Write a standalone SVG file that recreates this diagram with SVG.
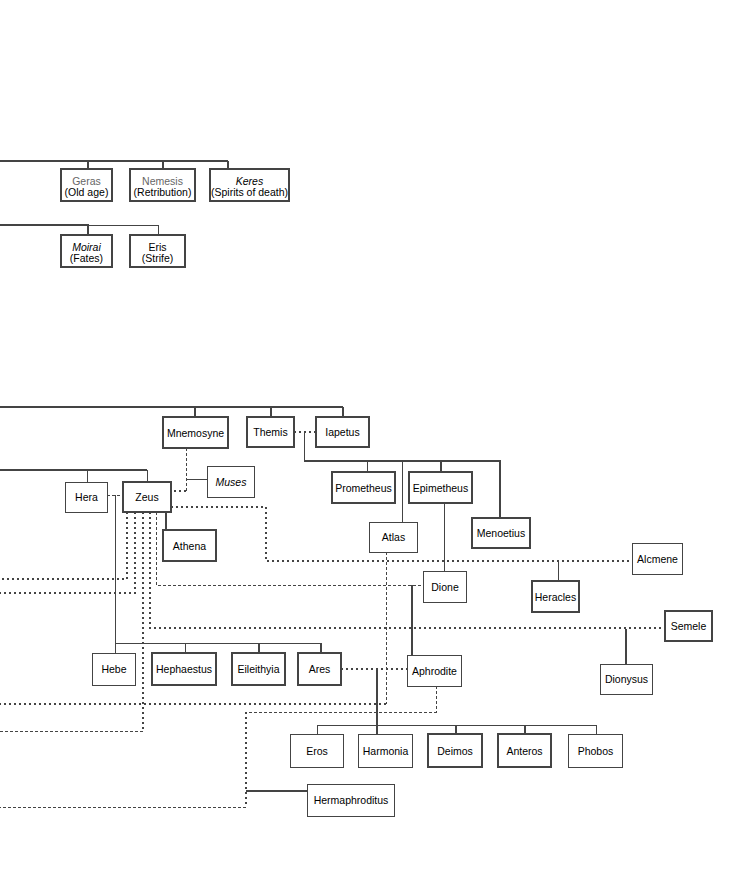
<svg xmlns="http://www.w3.org/2000/svg" width="755" height="873" viewBox="0 0 755 873">
<style>
.bx{fill:#fff;stroke:#444;shape-rendering:crispEdges}
.tk{stroke-width:2}
.tn{stroke-width:1}
text{font-family:"Liberation Sans",Arial,sans-serif;font-size:10.5px;fill:#000;text-anchor:middle}
.g{fill:#666}
.i{font-style:italic}
path{shape-rendering:crispEdges}
.s1{fill:none;stroke:#444;stroke-width:1}
.s2{fill:none;stroke:#444;stroke-width:2}
.da{fill:none;stroke:#444;stroke-width:1;stroke-dasharray:3,2}
.dt{fill:none;stroke:#444;stroke-width:2;stroke-dasharray:2,3}
</style>
<rect width="755" height="873" fill="#fff"/>
<g id="connectors">
<path class="s2" d="M0 161H228M88 161V169M163 161V169M228 161V169"/>
<path class="s2" d="M0 225H88V235"/>
<path class="s1" d="M88 225H158V235"/>
<path class="s2" d="M0 407H343M195 407V417M271 407V417M343 407V417"/>
<path class="s2" d="M0 470H147"/>
<path class="s1" d="M87 470V482M147 470V482"/>
<path class="da" d="M107 495H123"/>
<path class="s1" d="M115 495V643H321M115 643V653M185 643V653"/>
<path class="s2" d="M259 643V653M321 643V653"/>
<path class="da" d="M186 448V491"/>
<path class="dt" d="M186 491H171"/>
<path class="s1" d="M186 479H207"/>
<path class="dt" d="M294 432H316"/>
<path class="s1" d="M304 432V461"/>
<path class="s2" d="M304 461H500V518M441 461V472"/>
<path class="s1" d="M367 461V472M402 461V522M444 503V571"/>
<path class="s2" d="M166 512V530"/>
<path class="dt" d="M127 512V579H0M135 512V593H0M143 512V731"/>
<path class="da" d="M143 731H0"/>
<path class="dt" d="M150 512V628H665"/>
<path class="da" d="M156 512V585H423"/>
<path class="dt" d="M171 507H266V561H632"/>
<path class="s1" d="M558 561V581"/>
<path class="s2" d="M626 629V664"/>
<path class="s2" d="M412 585V655"/>
<path class="da" d="M386 552V704"/>
<path class="dt" d="M386 704H0"/>
<path class="dt" d="M341 669H407"/>
<path class="s2" d="M377 669V734"/>
<path class="s1" d="M317 725H596M317 725V734M596 725V734"/>
<path class="s2" d="M456 725V734M525 725V734"/>
<path class="da" d="M436 686V712H246"/>
<path class="dt" d="M246 712V807"/>
<path class="da" d="M246 807H0"/>
<path class="s2" d="M246 791H307"/>
</g>
<g id="geras"><rect class="bx tk" x="61" y="169" width="51" height="32"/><text x="86.5" y="185" class="g">Geras</text><text x="86.5" y="196">(Old age)</text></g>
<g id="nemesis"><rect class="bx tk" x="130" y="169" width="65" height="32"/><text x="162.5" y="185" class="g">Nemesis</text><text x="162.5" y="196">(Retribution)</text></g>
<g id="keres"><rect class="bx tk" x="210" y="169" width="79" height="32"/><text x="249.5" y="185" class="i">Keres</text><text x="249.5" y="196">(Spirits of death)</text></g>
<g id="moirai"><rect class="bx tk" x="61" y="235" width="51" height="32"/><text x="86.5" y="251" class="i">Moirai</text><text x="86.5" y="262">(Fates)</text></g>
<g id="eris"><rect class="bx tk" x="130" y="235" width="55" height="32"/><text x="157.5" y="251">Eris</text><text x="157.5" y="262">(Strife)</text></g>
<g id="mnemosyne"><rect class="bx tk" x="163" y="417" width="65" height="31"/><text x="195.5" y="436.5">Mnemosyne</text></g>
<g id="themis"><rect class="bx tk" x="247" y="417" width="47" height="30"/><text x="270.5" y="436">Themis</text></g>
<g id="iapetus"><rect class="bx tk" x="316" y="417" width="53" height="30"/><text x="342.5" y="436">Iapetus</text></g>
<g id="hera"><rect class="bx tn" x="65.5" y="482.5" width="42" height="30"/><text x="86.5" y="501">Hera</text></g>
<g id="zeus"><rect class="bx tk" x="123" y="482" width="48" height="30"/><text x="147" y="501">Zeus</text></g>
<g id="muses"><rect class="bx tn" x="207.5" y="466.5" width="47" height="31"/><text x="231" y="486" class="i">Muses</text></g>
<g id="athena"><rect class="bx tk" x="163" y="530" width="53" height="31"/><text x="189.5" y="549.5">Athena</text></g>
<g id="prometheus"><rect class="bx tk" x="332" y="472" width="63" height="31"/><text x="363.5" y="491.5">Prometheus</text></g>
<g id="epimetheus"><rect class="bx tk" x="409" y="472" width="63" height="31"/><text x="440.5" y="491.5">Epimetheus</text></g>
<g id="atlas"><rect class="bx tn" x="369.5" y="522.5" width="48" height="30"/><text x="393.5" y="541">Atlas</text></g>
<g id="menoetius"><rect class="bx tk" x="472" y="518" width="58" height="30"/><text x="501" y="537">Menoetius</text></g>
<g id="alcmene"><rect class="bx tn" x="632.5" y="543.5" width="50" height="31"/><text x="657.5" y="563">Alcmene</text></g>
<g id="dione"><rect class="bx tn" x="423.5" y="571.5" width="43" height="31"/><text x="445" y="591">Dione</text></g>
<g id="heracles"><rect class="bx tk" x="532" y="581" width="47" height="31"/><text x="555.5" y="600.5">Heracles</text></g>
<g id="semele"><rect class="bx tk" x="665" y="611" width="47" height="30"/><text x="688.5" y="630">Semele</text></g>
<g id="dionysus"><rect class="bx tn" x="600.5" y="664.5" width="52" height="30"/><text x="626.5" y="683">Dionysus</text></g>
<g id="hebe"><rect class="bx tn" x="92.5" y="653.5" width="43" height="32"/><text x="114" y="673">Hebe</text></g>
<g id="hephaestus"><rect class="bx tk" x="152" y="653" width="64" height="32"/><text x="184" y="673">Hephaestus</text></g>
<g id="eileithyia"><rect class="bx tk" x="232" y="653" width="53" height="32"/><text x="258.5" y="673">Eileithyia</text></g>
<g id="ares"><rect class="bx tk" x="298" y="653" width="43" height="32"/><text x="319.5" y="673">Ares</text></g>
<g id="aphrodite"><rect class="bx tn" x="407.5" y="655.5" width="54" height="31"/><text x="434.5" y="675">Aphrodite</text></g>
<g id="eros"><rect class="bx tn" x="290.5" y="734.5" width="53" height="33"/><text x="317" y="755">Eros</text></g>
<g id="harmonia"><rect class="bx tn" x="358.5" y="734.5" width="54" height="33"/><text x="385.5" y="755">Harmonia</text></g>
<g id="deimos"><rect class="bx tk" x="428" y="734" width="54" height="33"/><text x="455" y="755">Deimos</text></g>
<g id="anteros"><rect class="bx tk" x="498" y="734" width="53" height="33"/><text x="524.5" y="755">Anteros</text></g>
<g id="phobos"><rect class="bx tn" x="568.5" y="734.5" width="54" height="33"/><text x="595.5" y="755">Phobos</text></g>
<g id="hermaphroditus"><rect class="bx tn" x="307.5" y="784.5" width="87" height="32"/><text x="351" y="804">Hermaphroditus</text></g>
</svg>
